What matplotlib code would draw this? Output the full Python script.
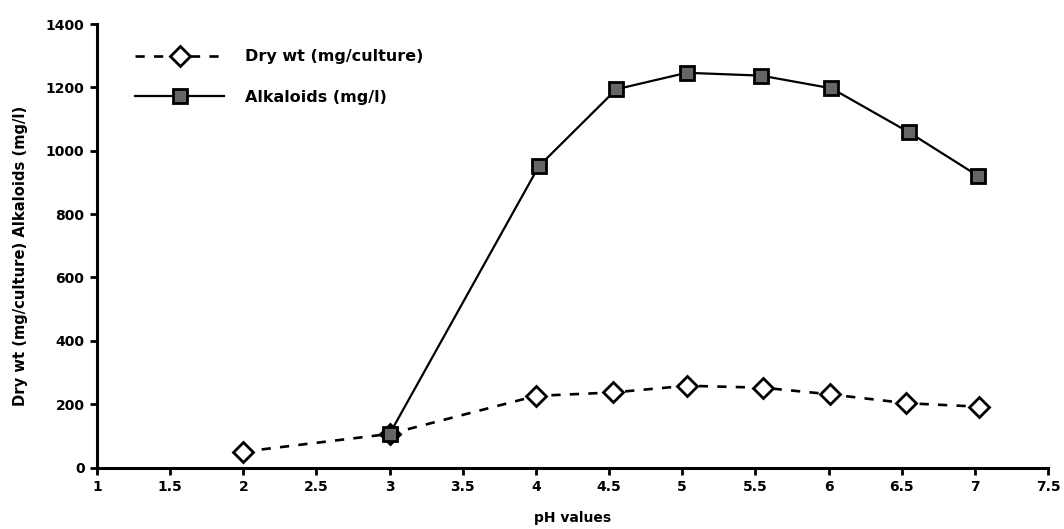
import matplotlib
matplotlib.use("Agg")
import matplotlib.pyplot as plt

ph_values = [2, 3, 4, 4.53, 5.03, 5.55, 6.01, 6.53, 7.03]
dry_wt = [50, 106, 226, 237, 258, 252, 231, 203, 192]
alk_ph = [3, 4.02, 4.55, 5.03, 5.54, 6.02, 6.55, 7.02]
alkaloids = [106, 951, 1194, 1246, 1237, 1197, 1058, 921]
x_ticks = [1, 1.5, 2, 2.5, 3, 3.5, 4, 4.5, 5, 5.5, 6, 6.5, 7, 7.5]
x_tick_labels = ["1", "1.5", "2", "2.5", "3", "3.5", "4", "4.5", "5", "5.5", "6", "6.5", "7", "7.5"]
y_ticks = [0, 200, 400, 600, 800, 1000, 1200, 1400]

plt.rcParams['font.family'] = ['DejaVu Sans']
plt.rcParams['font.weight'] = 'bold'

fig = plt.figure(figsize=(10.64, 5.29), dpi=100)
ax = fig.add_axes([97/1064, 1-467.5/529, 951/1064, 443.5/529])

ax.plot(ph_values, dry_wt, color='black', lw=1.9, dashes=(3.5, 3.5),
        marker='D', markersize=10.5, markerfacecolor='white',
        markeredgecolor='black', markeredgewidth=2.0,
        label='Dry wt (mg/culture)', zorder=3)
ax.plot(alk_ph, alkaloids, color='black', lw=1.6, linestyle='-',
        marker='s', markersize=10.5, markerfacecolor='#666666',
        markeredgecolor='black', markeredgewidth=2.0,
        label='Alkaloids (mg/l)', zorder=4)

ax.set_xlim(1, 7.5)
ax.set_ylim(0, 1400)
ax.set_xticks(x_ticks)
ax.set_xticklabels(x_tick_labels)
ax.set_yticks(y_ticks)

for s in ['top', 'right']:
    ax.spines[s].set_visible(False)
for s in ['left', 'bottom']:
    ax.spines[s].set_linewidth(2.2)
ax.tick_params(axis='both', direction='out', length=5, width=2.0,
               labelsize=10, pad=4)
for lab in ax.get_xticklabels() + ax.get_yticklabels():
    lab.set_fontweight('bold')

ax.set_xlabel('pH values', fontsize=10, fontweight='bold', labelpad=12)
ax.set_ylabel('Dry wt (mg/culture) Alkaloids (mg/l)', fontsize=10.6,
              fontweight='bold')
ax.yaxis.set_label_coords(-0.073, 0.477)

leg = ax.legend(loc='upper left', bbox_to_anchor=(0.028, 0.968), frameon=False,
                fontsize=11.5, handlelength=5.6, handletextpad=1.3,
                labelspacing=1.58, numpoints=1, borderpad=0.2)
for t in leg.get_texts():
    t.set_fontweight('bold')

fig.savefig('out.png', dpi=100)
